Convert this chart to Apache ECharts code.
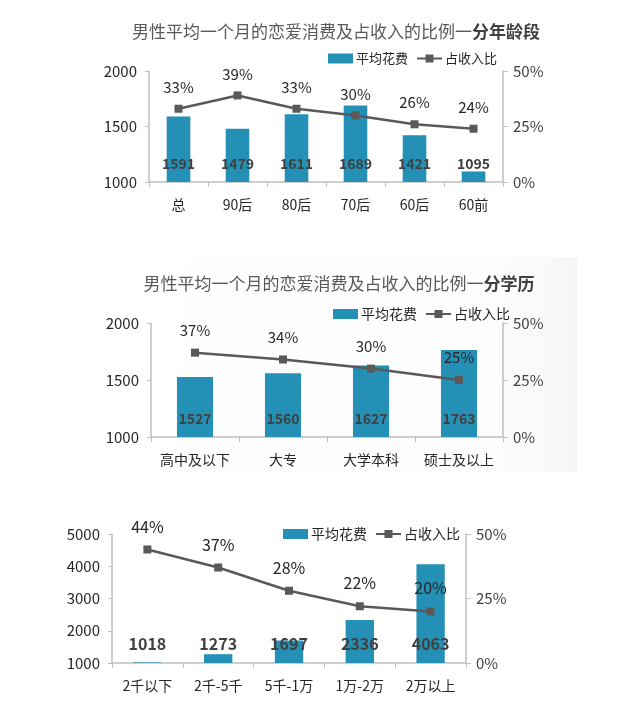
<!DOCTYPE html>
<html>
<head>
<meta charset="utf-8">
<script src="https://cdn.jsdelivr.net/npm/echarts@6/dist/echarts.min.js"></script>
<style>html,body{margin:0;padding:0;background:#fff}#c{width:634px;height:715px}</style>
</head>
<body>
<div id="c"></div>
<script>
// Chart 1: by age group
const ageCats = ['总', '90后', '80后', '70后', '60后', '60前'];
const ageSpend = [1591, 1479, 1611, 1689, 1421, 1095];
const agePct = [33, 39, 33, 30, 26, 24];
// Chart 2: by education
const eduCats = ['高中及以下', '大专', '大学本科', '硕士及以上'];
const eduSpend = [1527, 1560, 1627, 1763];
const eduPct = [37, 34, 30, 25];
// Chart 3: by income
const incCats = ['2千以下', '2千-5千', '5千-1万', '1万-2万', '2万以上'];
const incSpend = [1018, 1273, 1697, 2336, 4063];
const incPct = [44, 37, 28, 22, 20];

const title1 = '男性平均一个月的恋爱消费及占收入的比例一';
const title1b = '分年龄段';
const title2b = '分学历';

const FONT = '"Noto Sans CJK SC", "Noto Sans", sans-serif';
const BAR = '#2490B5';
const LINE = '#595959';
const AXIS = '#BFBFBF';
const TXT = '#262626';

const chart = echarts.init(document.getElementById('c'));

function grid(l, r, t, h) { return { left: l, right: r, top: t, height: h, containLabel: false }; }
function xAx(i, cats, fs) {
  return {
    type: 'category', gridIndex: i, data: cats, boundaryGap: true,
    axisLine: { lineStyle: { color: AXIS, width: 1.5 } },
    axisTick: { show: true, inside: false, length: 5, lineStyle: { color: AXIS } },
    axisLabel: { color: TXT, fontSize: fs, fontFamily: FONT, margin: 16, interval: 0 }
  };
}
function yLeft(i, min, max, itv) {
  return {
    type: 'value', gridIndex: i, min: min, max: max, interval: itv, position: 'left',
    splitLine: { show: false },
    axisLine: { show: true, lineStyle: { color: AXIS, width: 1.5 } },
    axisTick: { show: true, length: 4, lineStyle: { color: AXIS } },
    axisLabel: { color: TXT, fontSize: 15, fontFamily: FONT, margin: 12, formatter: (v) => String(v) }
  };
}
function yRight(i) {
  return {
    type: 'value', gridIndex: i, min: 0, max: 50, interval: 25, position: 'right',
    splitLine: { show: false },
    axisLine: { show: true, lineStyle: { color: AXIS, width: 1.5 } },
    axisTick: { show: true, length: 5, lineStyle: { color: AXIS } },
    axisLabel: { color: '#404040', fontSize: 15, fontFamily: FONT, margin: 10, formatter: '{value}%' }
  };
}
function barS(i, data, fs, bw) {
  return {
    name: '平均花费', type: 'bar', xAxisIndex: i, yAxisIndex: i * 2, data: data,
    barWidth: bw, itemStyle: { color: BAR },
    label: { show: true, position: 'insideBottom', distance: 11, color: '#404040',
      fontWeight: 'bold', fontSize: fs, fontFamily: FONT },
    z: 2
  };
}
function lineS(i, data, fs, dist) {
  return {
    name: '占收入比', type: 'line', xAxisIndex: i, yAxisIndex: i * 2 + 1, data: data,
    symbol: 'rect', symbolSize: 8, lineStyle: { color: LINE, width: 2.5 },
    itemStyle: { color: LINE },
    label: { show: true, position: 'top', distance: dist, color: TXT, fontSize: fs,
      fontFamily: FONT, formatter: '{c}%' },
    z: 3
  };
}
function legend(left, top, fs) {
  return {
    left: left, top: top, itemWidth: 25, itemHeight: 10, itemGap: 8,
    textStyle: { color: TXT, fontSize: fs, fontFamily: FONT, padding: [0, 0, 0, -2] },
    data: [{ name: '平均花费', icon: 'rect' }, { name: '占收入比' }]
  };
}
function titleStyle() {
  return { rich: {
    a: { fontSize: 17, color: '#595959', fontWeight: 'normal', fontFamily: FONT },
    b: { fontSize: 17, color: '#404040', fontWeight: 'bold', fontFamily: FONT } } };
}

chart.setOption({
  animation: false,
  backgroundColor: '#fff',
  graphic: [{
    type: 'rect', shape: { x: 100, y: 257, width: 477, height: 215 }, z: -10, silent: true,
    style: { fill: new echarts.graphic.LinearGradient(0, 0, 1, 0, [
      { offset: 0, color: 'rgba(248,248,248,0)' },
      { offset: 0.8, color: 'rgba(250,250,250,0.4)' },
      { offset: 1, color: 'rgba(246,246,246,1)' }]) }
  }],
  title: [
    { text: '{a|' + title1 + '}{b|' + title1b + '}', left: 331, top: 18, textAlign: 'center',
      textStyle: titleStyle() },
    { text: '{a|' + title1 + '}{b|' + title2b + '}', left: 334, top: 270, textAlign: 'center',
      textStyle: titleStyle() }
  ],
  legend: [legend(323, 47, 13), legend(328, 302, 14), legend(278, 522, 14)],
  grid: [grid(149, 131, 71, 111), grid(151, 131, 323, 114), grid(112, 168, 534, 129)],
  xAxis: [xAx(0, ageCats, 14), xAx(1, eduCats, 14), xAx(2, incCats, 14)],
  yAxis: [yLeft(0, 1000, 2000, 500), yRight(0), yLeft(1, 1000, 2000, 500), yRight(1),
          yLeft(2, 1000, 5000, 1000), yRight(2)],
  series: [
    barS(0, ageSpend, 14, '40%'), lineS(0, agePct, 15, 10),
    barS(1, eduSpend, 14, '41%'), lineS(1, eduPct, 15, 11),
    barS(2, incSpend, 16, '40%'), lineS(2, incPct, 16, 11)
  ]
});
</script>
</body>
</html>
